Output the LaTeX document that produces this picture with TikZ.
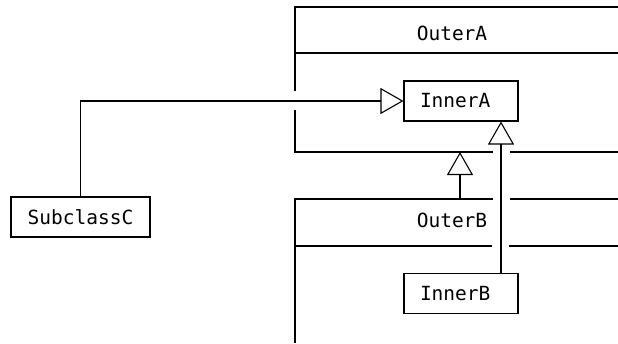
\documentclass[tikz,border=0pt]{standalone}
\usepackage{fontspec}
\newfontfamily\umlfont{DejaVu Sans Mono}
\usetikzlibrary{positioning,arrows.meta}

\begin{document}
\begin{tikzpicture}[
    x=1pt,y=-1pt,
    line width=1.1pt,
    node distance=151pt,
    classbox/.style={rectangle,draw,minimum width=114pt,minimum height=40pt,inner sep=0pt,font=\umlfont\fontsize{19.5}{21}\selectfont},
    innerbox/.style={classbox,text width=82pt,inner xsep=16pt,align=left},
    title/.style={inner sep=0pt,font=\umlfont\fontsize{19.5}{21}\selectfont},
    inherit/.style={-{Triangle[open,length=23pt,width=26pt]}},
]
\useasboundingbox (0,0) rectangle (618,343);

% ===== OuterA (open on the right) =====
\draw (618,7) -- (295,7) -- (295,91);
\draw (295,110) -- (295,152) -- (493,152);
\draw (510,152) -- (618,152);
\draw (295,53) -- (618,53);
\node[title] (outerA) at (452,33) {OuterA};

% ===== OuterB (open on the right and below) =====
\draw (295,343) -- (295,199) -- (493,199);
\draw (510,199) -- (618,199);
\draw (295,246) -- (492,246);
\draw (509,246) -- (618,246);
\node[title] (outerB) at (452,220) {OuterB};

% ===== Classes =====
\node[innerbox] (innerA) at (461,101) {InnerA};
\node[innerbox,below=of innerA] (innerB) {InnerB};
\node[classbox,minimum width=139pt] (subclassC) at (80.5,217) {SubclassC};

% ===== Generalizations =====
\coordinate (outerAbottom) at (460,152);
\coordinate (outerBtop) at (460,199);
\draw[inherit] (subclassC.north) |- (innerA.west);
\draw[inherit] ([xshift=40pt]innerB.north) -- ([xshift=40pt]innerA.south);
\draw[inherit] (outerBtop) -- (outerAbottom);

\end{tikzpicture}
\end{document}
